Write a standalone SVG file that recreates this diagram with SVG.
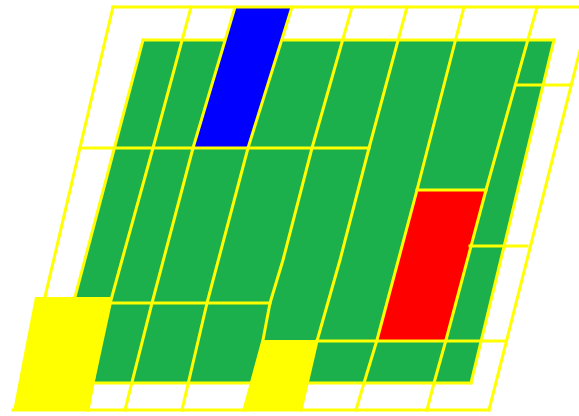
<svg xmlns="http://www.w3.org/2000/svg" width="579" height="416" viewBox="0 0 579 416">
<style>
.g{fill:#1BB04C}
.y{fill:#FFFF00}
.b{fill:#0000FF}
.r{fill:#FF0000}
.ln{fill:none;stroke:#FFFF00;stroke-width:3;stroke-linejoin:round;stroke-linecap:square}
</style>
<rect width="579" height="416" fill="#FFFFFF"/>
<g id="fills">
<polygon class="g" points="143,40 554,40 471,383 93,383 112,297 75,297"/>
<polygon class="y" points="35,297 111,297 89,411 13,411"/>
<polygon class="y" points="263,340 317,340 301,410 245,410"/>
<polygon class="b" points="235,7 292,7 248,148 193,148"/>
<polygon class="r" points="417,190 486,190 446,340 377,340"/>
</g>
<g id="lines">
<path class="ln" d="M113,7 H579"/>
<path class="ln" d="M113,7 L45,297"/>
<path class="ln" d="M591,7 L489,410"/>
<path class="ln" d="M13,410 H489"/>
<path class="ln" d="M143,40 H224 M283,40 H554"/>
<path class="ln" d="M143,40 L75,297"/>
<path class="ln" d="M191,7 L153,148 L122,260 L111,300 L93,383 L88,410"/>
<path class="ln" d="M235,7 L193,148 L152,303 L125,410"/>
<path class="ln" d="M292,7 L248,148 L207,303 L182,410"/>
<path class="ln" d="M352,7 L312,148 L283,260 L270,303 L263,340 L244,410"/>
<path class="ln" d="M407,7 L369,148 L340,260 L317,341 L301,410"/>
<path class="ln" d="M464,7 L417,190 L377,340 L364,383 L356,410"/>
<path class="ln" d="M537,7 L486,190 L446,340 L434,383 L427,410"/>
<path class="ln" d="M554,40 L471,383"/>
<path class="ln" d="M516,85 H571"/>
<path class="ln" d="M80,148 H369"/>
<path class="ln" d="M417,190 H486"/>
<path class="ln" d="M470,246 H527"/>
<path class="ln" d="M110,303 H270"/>
<path class="ln" d="M317,341 H506"/>
<path class="ln" d="M93,383 H250"/>
<path class="ln" d="M307,383 H471"/>
</g>
</svg>
